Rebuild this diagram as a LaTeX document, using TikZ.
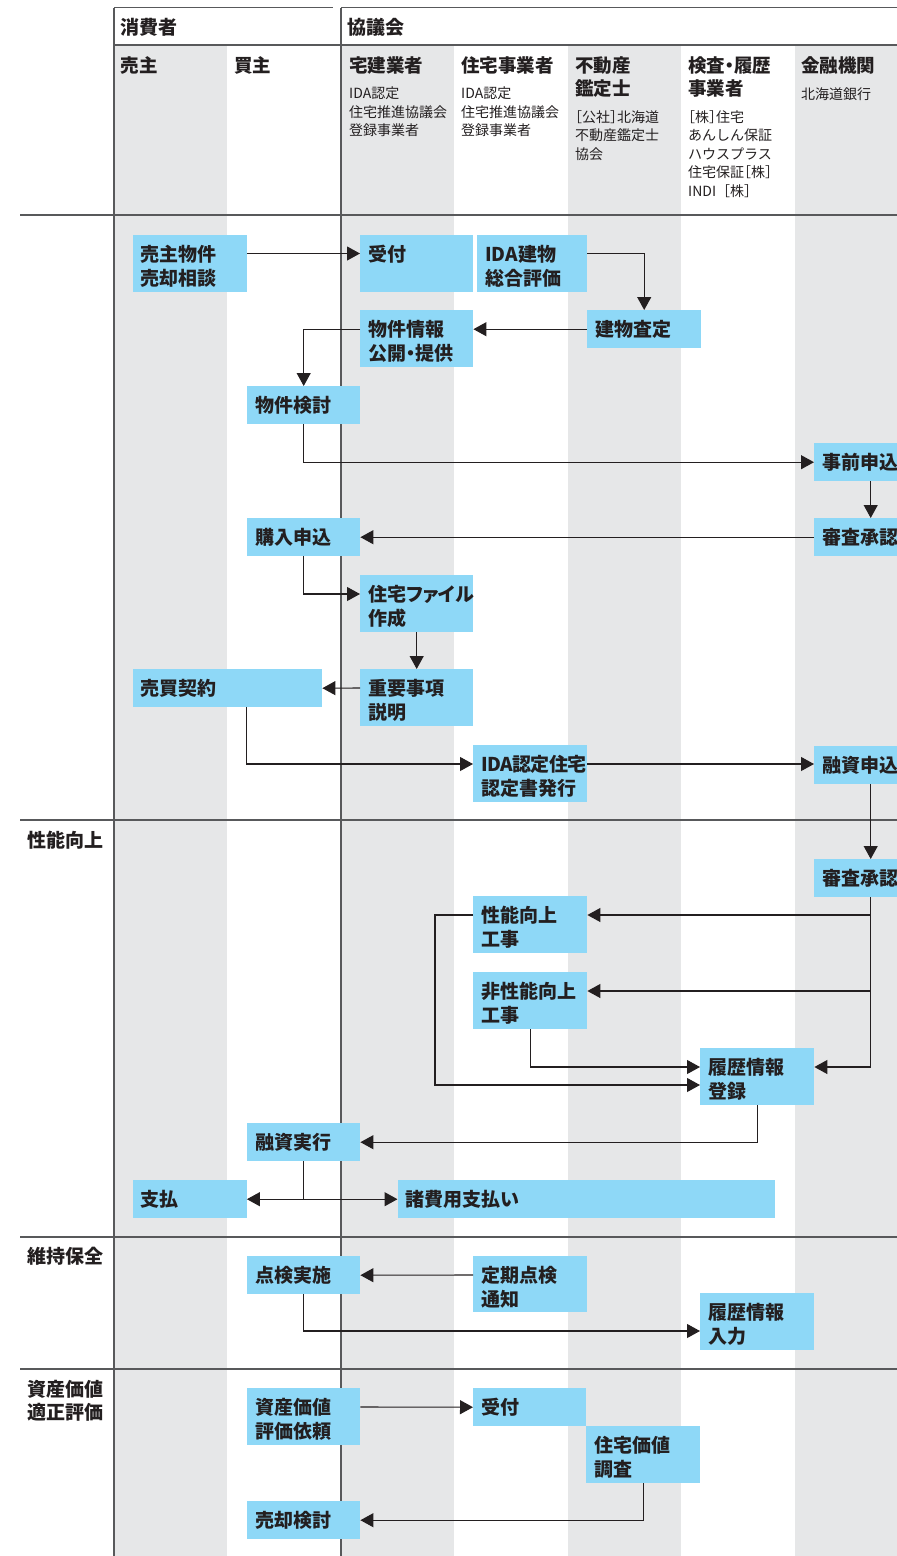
\documentclass[tikz,border=0pt]{standalone}
\usepackage{fontspec}
\setmainfont{Noto Sans CJK JP}[RawFeature=+halt]
\newfontfamily\boxfont{Noto Sans CJK JP}[RawFeature=+palt]
\newfontfamily\nohaltfont{Noto Sans CJK JP}
\usetikzlibrary{arrows.meta}
\definecolor{boxblue}{HTML}{8ED8F7}
\definecolor{band}{HTML}{E6E7E8}
\definecolor{ink}{HTML}{231F20}
\definecolor{rulegray}{HTML}{58595B}
\tikzset{
 box/.style={fill=boxblue, inner xsep=8pt, inner ysep=0pt, text height=26.7pt, anchor=north west, font=\boxfont\bfseries\fontsize{19}{23.5}\selectfont, text=ink},
 conn/.style={draw=ink, line width=1.1pt, -{Triangle[length=13pt,width=14pt]}},
 gridline/.style={draw=rulegray, line width=1.3pt},
 head/.style={anchor=base west, inner sep=0pt, text=ink, font=\fontsize{18.5}{23.5}\selectfont\bfseries},
 bighead/.style={anchor=base west, inner sep=0pt, text=ink, font=\fontsize{19}{22.5}\selectfont\bfseries},
 subtext/.style={anchor=base west, inner sep=0pt, text=ink, font=\fontsize{14}{18.5}\selectfont},
}
\newcommand\mybox[6]{%
 \pgfmathsetmacro\myboxd{#5-26.7}%
 \pgfmathsetmacro\myboxw{#4-16}%
 \node[box, text depth=\myboxd pt, minimum width=#4pt] (#1) at (#2,#3) {\parbox[t]{\myboxw pt}{\raggedright #6}};%
}
\newcommand\ml[1]{\begin{tabular}[t]{@{}l@{}}#1\end{tabular}}
\begin{document}
\begin{tikzpicture}[x=1pt,y=-1pt]
\useasboundingbox (0,0) rectangle (897,1556);
\clip (0,0) rectangle (897,1556);
% bands
\fill[band] (114,45) rectangle (227,1556);
\fill[band] (341,45) rectangle (454,1556);
\fill[band] (568,45) rectangle (681,1556);
\fill[band] (795,45) rectangle (897,1556);
% grid lines
\draw[gridline] (114,7.5) -- (333,7.5);
\draw[gridline] (341,7.5) -- (897,7.5);
\draw[gridline] (114,45) -- (897,45);
\draw[gridline] (114,7.5) -- (114,1556);
\draw[gridline] (341,7.5) -- (341,1556);
\foreach \yy in {215,820,1237,1369} \draw[gridline] (20,\yy) -- (897,\yy);
% headers
\node[bighead] (hc) at (120.5,34) {消費者};
\node[bighead] (hk) at (347.5,34) {協議会};
\node[head] (h1) at (120.5,72) {売主};
\node[head] (h2) at (234,72) {買主};
\node[head] (h3) at (349,72) {宅建業者};
\node[subtext] (s3) at (349,98.8) {\ml{IDA認定\\住宅推進協議会\\登録事業者}};
\node[head] (h4) at (461,72) {住宅事業者};
\node[subtext] (s4) at (461,98.8) {\ml{IDA認定\\住宅推進協議会\\登録事業者}};
\node[head] (h5) at (575,72) {\ml{不動産\\鑑定士}};
\node[subtext] (s5) at (575,122) {\ml{［公社］北海道\\不動産鑑定士\\協会}};
\node[head] (h6) at (688,72) {\ml{検査・履歴\\事業者}};
\node[subtext] (s6) at (688,122) {\ml{［株］住宅\\あんしん保証\\ハウスプラス\\住宅保証［株］\\INDI{\nohaltfont［}株］}};
\node[head] (h7) at (801,72) {金融機関};
\node[subtext] (s7) at (801,99.5) {北海道銀行};
% left labels
\node[bighead] (l1) at (27,847) {性能向上};
\node[bighead] (l2) at (27,1263) {維持保全};
\node[bighead] (l3) at (27,1396) {\ml{資産価値\\適正評価}};
% boxes
\mybox{b1}{132.5}{235}{114}{57}{売主物件\\売却相談}
\mybox{uk1}{360}{235}{113}{57}{受付}
\mybox{ida}{477}{235}{110}{57}{IDA建物\\総合評価}
\mybox{kt}{587}{310}{114}{38}{建物査定}
\mybox{jh}{360}{310}{113}{57}{物件情報\\公開・提供}
\mybox{bk}{247}{386}{113}{38}{物件検討}
\mybox{jz}{814}{443}{113}{38}{事前申込}
\mybox{sa1}{814}{518}{113}{38}{審査承認}
\mybox{kn}{247}{518}{113}{38}{購入申込}
\mybox{jf}{360}{575}{113}{57}{住宅ファイル\\作成}
\mybox{jy}{360}{669}{113}{57}{重要事項\\説明}
\mybox{bb}{132.5}{669}{189.5}{38}{売買契約}
\mybox{ic}{473}{745}{114}{57}{{\addfontfeatures{LetterSpace=-3}IDA認定住宅}\\認定書発行}
\mybox{ys}{814}{745.5}{113}{38}{融資申込}
\mybox{sa2}{814}{859}{113}{38}{審査承認}
\mybox{sk}{473}{896}{114}{57}{性能向上\\工事}
\mybox{hs}{473}{972}{114}{57}{非性能向上\\工事}
\mybox{rt}{700}{1048}{114}{57}{履歴情報\\登録}
\mybox{yj}{247}{1123}{113}{38}{融資実行}
\mybox{sh}{132.5}{1180}{114}{38}{支払}
\mybox{sy}{397.5}{1180}{377.5}{38}{諸費用支払い}
\mybox{tj}{247}{1256}{113}{38}{点検実施}
\mybox{tt}{473}{1256}{114}{56}{定期点検\\通知}
\mybox{ri}{700}{1293}{114}{57}{履歴情報\\入力}
\mybox{si}{247}{1388}{113}{57}{資産価値\\評価依頼}
\mybox{uk2}{473}{1388}{113}{38}{受付}
\mybox{jk}{586}{1426}{114}{57}{住宅価値\\調査}
\mybox{bt}{247}{1501}{113}{38}{売却検討}
% connectors
\draw[conn] ([yshift=-18.5pt]b1.north east) -- ([yshift=-18.5pt]uk1.north west);
\draw[conn] ([yshift=-18.5pt]ida.north east) -| (kt.north);
\draw[conn] (kt.west) -- (kt.west -| jh.east);
\draw[conn] (kt.west -| jh.west) -| (bk.north);
\draw[conn] (bk.south) |- (jz.west);
\draw[conn] (jz.south) -- (sa1.north);
\draw[conn] (sa1.west) -- (kn.east);
\draw[conn] (kn.south) |- ([yshift=-19pt]jf.north west);
\draw[conn] (jf.south) -- (jy.north);
\draw[conn] ([yshift=-19pt]jy.north west) -- (bb.east);
\draw[conn] ([xshift=114pt]bb.south west) |- ([yshift=-19pt]ic.north west);
\draw[conn] ([yshift=-19pt]ic.north east) -- ([yshift=-19pt]ic.north east -| ys.west);
\draw[conn] (ys.south) -- (sa2.north);
\draw[conn] (sa2.south) |- ([yshift=-19pt]sk.north east);
\draw[conn] (sa2.south) |- ([yshift=-19pt]hs.north east);
\draw[conn] (sa2.south) |- ([yshift=-19pt]rt.north east);
\draw[conn] ([yshift=-19pt]sk.north west) -- ++(-38,0) |- ([yshift=-37pt]rt.north west);
\draw[conn] (hs.south) |- ([yshift=-19pt]rt.north west);
\draw[conn] (rt.south) |- (yj.east);
\draw[conn] (yj.south) |- (sh.east);
\draw[conn] (yj.south) |- (sy.west);
\draw[conn] ([yshift=-19pt]tt.north west) -- (tj.east);
\draw[conn] (tj.south) |- ([yshift=-38pt]ri.north west);
\draw[conn] ([yshift=-19pt]si.north east) -- (uk2.west);
\draw[conn] (jk.south) |- (bt.east);
\end{tikzpicture}
\end{document}
